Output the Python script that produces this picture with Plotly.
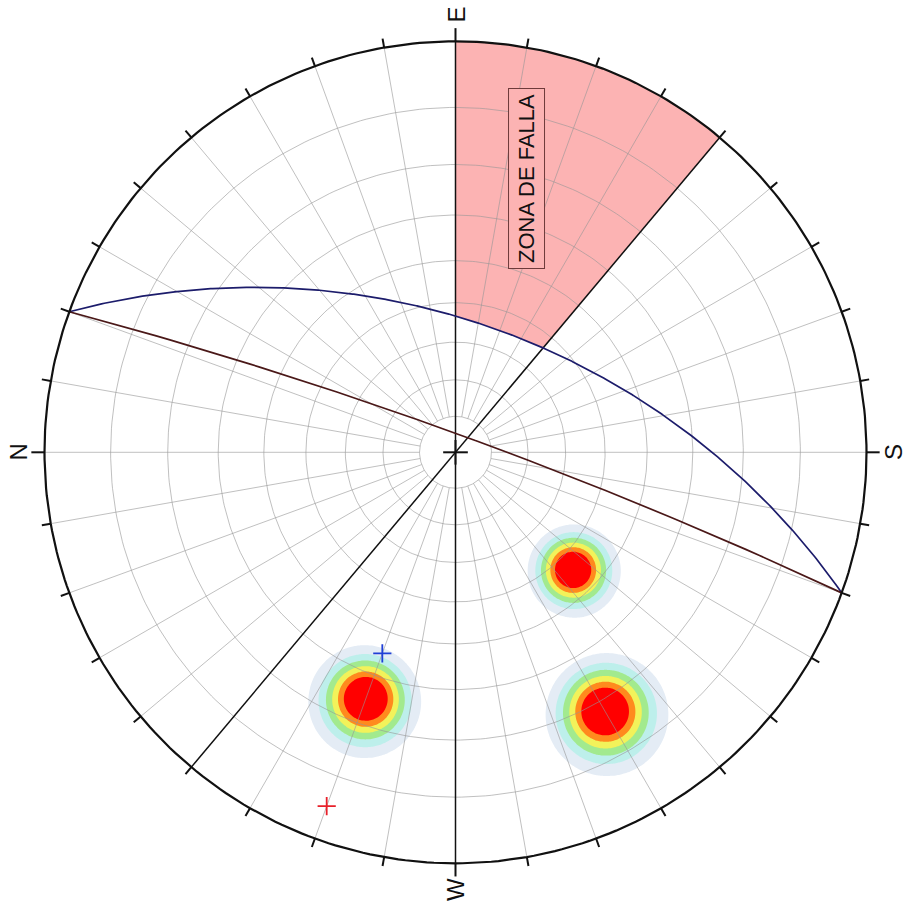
import numpy as np
import plotly.graph_objects as go

# ---- structural data (degrees) ----
# planes as dip direction / dip
plane_dipdir = [110, 110]
plane_dip = [55, 85]
plane_color = ["#1c1c6b", "#4a1818"]
pole_color = ["#1f3fd6", "#e8202a"]

# fault zone: between two vertical sections, outside plane 1
zone_az = [90, 130]
zone_label = "ZONA DE FALLA"

# pole concentrations (trend / plunge)
set_trend = [290, 225, 240]
set_plunge = [25, 46, 18]
kernel_sigma = 5.6

# density contour levels and band fills (lowest band left clear)
density_levels = [0.14, 0.26, 0.38, 0.50, 0.62, 0.74]
density_colors = ["rgba(255,255,255,0)", "#e4ecf5", "#bdefeb", "#a2ea8e",
                  "#f2f25a", "#ff8a1e", "#ff0000"]

cardinal_az = [0, 90, 180, 270]
cardinal_text = ["N", "E", "S", "W"]

# net is drawn with East at the top
ROT = -90.0
FONT = "Liberation Sans, Arial, sans-serif"


def radius(plunge):
    # equal-angle (Wulff) projection
    return np.tan(np.radians(90.0 - np.asarray(plunge, float)) / 2.0)


def polar_xy(trend, r):
    th = np.radians(np.asarray(trend, float) + ROT)
    return r * np.sin(th), r * np.cos(th)


def xy(trend, plunge):
    return polar_xy(trend, radius(plunge))


def great_circle(dd, dip, az):
    app = np.degrees(np.arctan(np.tan(np.radians(dip)) * np.cos(np.radians(az - dd))))
    return xy(az, app)


def join(pieces):
    xs, ys = [], []
    for px, py in pieces:
        xs += list(px) + [None]
        ys += list(py) + [None]
    return xs, ys


fig = go.Figure()

# ---- pole density ----
n = 401
g = np.linspace(-1, 1, n)
X, Y = np.meshgrid(g, g)
Rr = np.hypot(X, Y)
phi = 2 * np.arctan(Rr)
tr = np.radians(np.degrees(np.arctan2(X, Y)) - ROT)
V = np.stack([np.sin(phi) * np.cos(tr), np.sin(phi) * np.sin(tr), np.cos(phi)])
Z = np.zeros_like(X)
for t, p in zip(set_trend, set_plunge):
    tt, pp = np.radians(t), np.radians(p)
    v = np.array([np.cos(pp) * np.cos(tt), np.cos(pp) * np.sin(tt), np.sin(pp)])
    c = np.abs(np.tensordot(v, V, axes=1)).clip(0, 1)
    d = np.degrees(np.arccos(c))
    Z += np.exp(-d ** 2 / (2 * kernel_sigma ** 2))
Z[Rr > 1] = 0

step = density_levels[1] - density_levels[0]
cs = [[i / (len(density_colors) - 1), col] for i, col in enumerate(density_colors)]
fig.add_trace(go.Contour(
    x=g, y=g, z=Z, autocontour=False,
    contours=dict(start=density_levels[0], end=density_levels[-1], size=step,
                  coloring="fill", showlines=False),
    colorscale=cs, line=dict(width=0), showscale=False, hoverinfo="skip"))

# ---- fault zone ----
az = np.linspace(zone_az[0], zone_az[1], 80)
gx, gy = great_circle(plane_dipdir[0], plane_dip[0], az)
ox, oy = polar_xy(az[::-1], 1.0)
fig.add_trace(go.Scatter(x=list(gx) + list(ox), y=list(gy) + list(oy), fill="toself",
                         fillcolor="#fcb3b3", line=dict(width=0), mode="lines",
                         hoverinfo="skip"))

# ---- polar grid ----
grid = []
circ = np.linspace(0, 360, 361)
for dip in range(10, 90, 10):
    grid.append(polar_xy(circ, np.tan(np.radians(dip) / 2)))
r_in = np.tan(np.radians(5))
for a in range(0, 360, 10):
    grid.append(polar_xy(np.array([a, a]), np.array([r_in, 1.0])))
gx, gy = join(grid)
fig.add_trace(go.Scatter(x=gx, y=gy, mode="lines",
                         line=dict(color="rgba(150,150,150,0.6)", width=1),
                         hoverinfo="skip"))

# ---- vertical sections bounding the zone ----
secs = [polar_xy(np.array([a, a + 180]), np.array([1.0, 1.0])) for a in zone_az]
sx, sy = join(secs)
fig.add_trace(go.Scatter(x=sx, y=sy, mode="lines", line=dict(color="#111111", width=1.5),
                         hoverinfo="skip"))

# ---- planes ----
for dd, dip, col in zip(plane_dipdir, plane_dip, plane_color):
    az = np.linspace(dd - 90, dd + 90, 721)
    px, py = great_circle(dd, dip, az)
    fig.add_trace(go.Scatter(x=px, y=py, mode="lines", line=dict(color=col, width=1.7),
                             hoverinfo="skip"))

# ---- poles to planes ----
for dd, dip, col in zip(plane_dipdir, plane_dip, pole_color):
    px, py = xy([(dd + 180) % 360], [90 - dip])
    fig.add_trace(go.Scatter(x=px, y=py, mode="markers",
                             marker=dict(symbol="cross-thin", size=13,
                                         line=dict(color=col, width=1.8)),
                             hoverinfo="skip"))

# ---- primitive, ticks, centre ----
px, py = polar_xy(circ, 1.0)
fig.add_trace(go.Scatter(x=px, y=py, mode="lines", line=dict(color="#111111", width=2.2),
                         hoverinfo="skip"))
ticks = []
for a in range(0, 360, 10):
    r_out = 1.032 if a in cardinal_az else 1.022
    ticks.append(polar_xy(np.array([a, a]), np.array([1.0, r_out])))
ticks.append(([-0.03, 0.03], [0, 0]))
ticks.append(([0, 0], [-0.03, 0.03]))
tx, ty = join(ticks)
fig.add_trace(go.Scatter(x=tx, y=ty, mode="lines", line=dict(color="#111111", width=2),
                         hoverinfo="skip"))

# ---- labels ----
for a, t in zip(cardinal_az, cardinal_text):
    lx, ly = polar_xy(a, 1.064)
    fig.add_annotation(x=float(lx), y=float(ly), text=t, showarrow=False, textangle=-90,
                       font=dict(family=FONT, size=24, color="#111111"))

fig.add_annotation(x=0.174, y=0.665, text=zone_label, showarrow=False, textangle=-90,
                   font=dict(family=FONT, size=22, color="#111111"),
                   bordercolor="#6e3a3a", borderwidth=1, borderpad=5, bgcolor="#fcb3b3")

R_PX = 411.0
CX, CY = 455.5, 452.3
fig.update_layout(
    width=910, height=904, margin=dict(l=0, r=0, t=0, b=0),
    paper_bgcolor="white", plot_bgcolor="white", showlegend=False,
    xaxis=dict(range=[-CX / R_PX, (910 - CX) / R_PX], visible=False, fixedrange=True),
    yaxis=dict(range=[-(904 - CY) / R_PX, CY / R_PX], visible=False, fixedrange=True),
)

fig.write_html("out.html")
